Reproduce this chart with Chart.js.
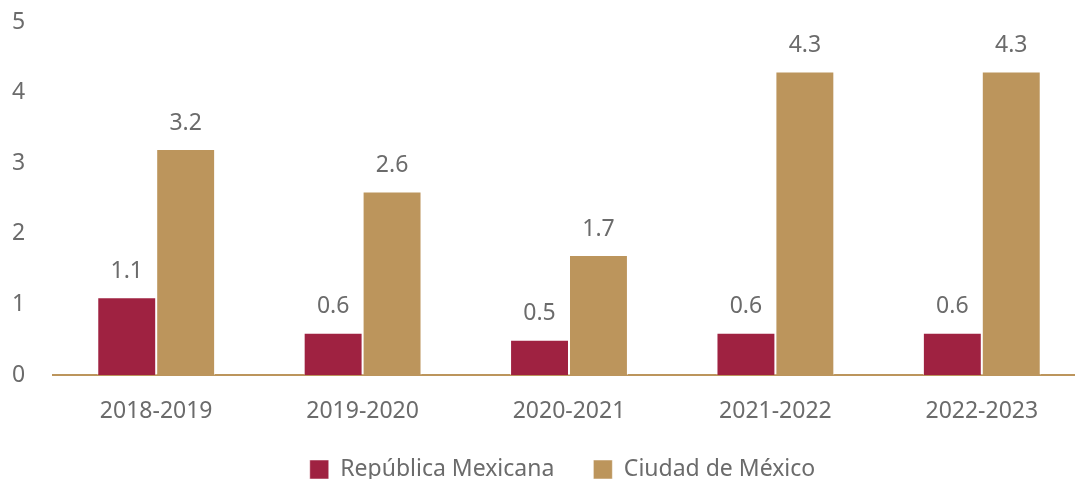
<!DOCTYPE html>
<html><head><meta charset="utf-8">
<script src="https://cdn.jsdelivr.net/npm/chart.js@4.4.0/dist/chart.umd.min.js"></script>
<style>
html,body{margin:0;padding:0;background:#fff;overflow:hidden;}
#wrap{width:1085px;height:480px;position:relative;}
</style></head>
<body><div id="wrap"><canvas id="c" width="1085" height="480"></canvas></div>
<script>
const categories = ["2018-2019","2019-2020","2020-2021","2021-2022","2022-2023"];
const seriesNames = ["República Mexicana","Ciudad de México"];
const republica = [1.1, 0.6, 0.5, 0.6, 0.6];
const cdmx = [3.2, 2.6, 1.7, 4.3, 4.3];
const yTicks = [0,1,2,3,4,5];

const FONT = "'Noto Sans'";
const FS = 23;
const TXT = "#6b6b6b";
const RED = "#9F2241";
const TAN = "#BC955C";

const labelPlugin = {
  id: 'valLabels',
  afterDatasetsDraw(chart){
    const ctx = chart.ctx;
    ctx.save();
    ctx.font = FS + "px " + FONT;
    ctx.fillStyle = TXT;
    ctx.textAlign = 'center';
    ctx.textBaseline = 'middle';
    chart.data.datasets.forEach((ds,i)=>{
      chart.getDatasetMeta(i).data.forEach((bar,j)=>{
        ctx.fillText(ds.data[j].toFixed(1), bar.x, bar.y - 26);
      });
    });
    ctx.restore();
  }
};
const legendFix = {
  id:'legendFix',
  afterInit(chart){
    const lg = chart.legend;
    if (lg && !lg._fixed){
      const orig = lg.fit;
      lg.fit = function(){ orig.call(this); this.height = 60; };
      lg._fixed = true;
    }
  },
  afterLayout(chart){
    const lg = chart.legend; const dx = 14, dy = -1;
    lg.left += dx; lg.right += dx; lg.top += dy; lg.bottom += dy;
  }
};

new Chart(document.getElementById('c'), {
  type:'bar',
  data:{
    labels: categories,
    datasets:[
      {label: seriesNames[0], data: republica, backgroundColor: RED, borderColor:'rgba(255,255,255,0.5)', borderWidth:1},
      {label: seriesNames[1], data: cdmx, backgroundColor: TAN, borderColor:'rgba(255,255,255,0.5)', borderWidth:1}
    ]
  },
  options:{
    responsive:false, animation:false,
    layout:{padding:{top:22,left:12,right:0,bottom:0}},
    datasets:{bar:{categoryPercentage:0.571, barPercentage:1}},
    plugins:{
      tooltip:{enabled:false},
      legend:{position:'bottom', labels:{font:{family:"Noto Sans",size:FS}, color:TXT, boxWidth:19, boxHeight:19, padding:39}}
    },
    scales:{
      y:{min:0,max:5, afterFit(s){s.width=41;},
        afterBuildTicks(s){ s.ticks = yTicks.map(v=>({value:v})); },
        grid:{display:false, drawTicks:false}, border:{display:false},
        ticks:{font:{family:"Noto Sans",size:FS}, color:TXT, padding:0, crossAlign:'far'}},
      x:{grid:{display:false, drawTicks:false}, border:{color:TAN, width:2},
        afterFit(s){ s.height = 45; },
        ticks:{font:{family:"Noto Sans",size:FS}, color:TXT, padding:23}}
    }
  },
  plugins:[labelPlugin, legendFix]
});
</script></body></html>
